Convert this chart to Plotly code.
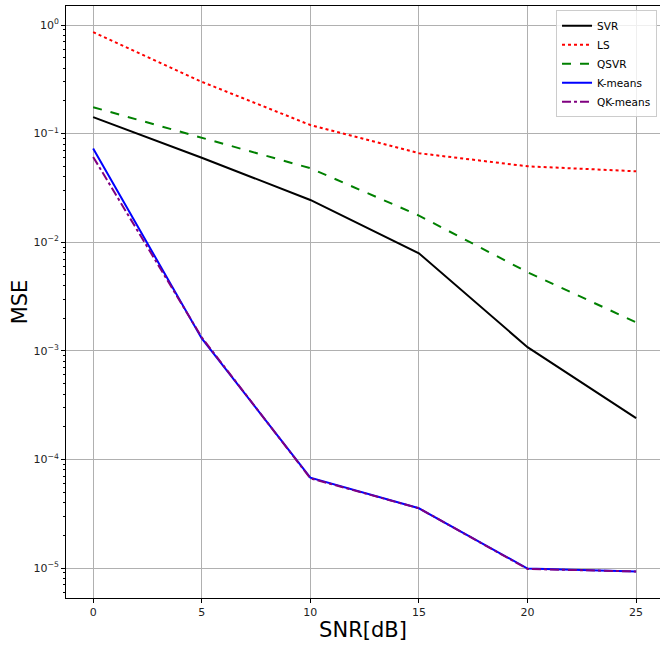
import plotly.graph_objects as go

snr = [0, 5, 10, 15, 20, 25]
svr = [0.142, 0.060, 0.0245, 0.0079, 0.00108, 0.00024]
ls = [0.86, 0.30, 0.12, 0.066, 0.050, 0.045]
qsvr = [0.175, 0.092, 0.048, 0.0176, 0.0053, 0.00183]
kmeans = [0.073, 0.0013, 6.8e-5, 3.55e-5, 9.9e-6, 9.3e-6]
qkmeans = [0.061, 0.00133, 6.7e-5, 3.55e-5, 9.8e-6, 9.3e-6]

series = [
    ("SVR", svr, "black", "solid"),
    ("LS", ls, "red", "dot"),
    ("QSVR", qsvr, "green", "dash"),
    ("K-means", kmeans, "blue", "solid"),
    ("QK-means", qkmeans, "purple", "dashdot"),
]

ytick_vals = [1e-5, 1e-4, 1e-3, 1e-2, 1e-1, 1]
ytick_text = ["10<sup>−5</sup>", "10<sup>−4</sup>", "10<sup>−3</sup>",
              "10<sup>−2</sup>", "10<sup>−1</sup>", "10<sup>0</sup>"]
minor_vals = [m * 10 ** e for e in range(-6, 1) for m in range(2, 10)]

fig = go.Figure()
for name, vals, color, dash in series:
    fig.add_trace(go.Scatter(x=snr, y=vals, mode="lines", name=name,
                             line=dict(color=color, dash=dash, width=2)))

axis_common = dict(showline=True, linecolor="black", linewidth=1, mirror=True,
                   showgrid=True, gridcolor="#b0b0b0", gridwidth=0.8,
                   ticks="outside", ticklen=4, tickcolor="black", zeroline=False,
                   tickfont=dict(family="DejaVu Sans", size=11, color="#222"))

fig.update_layout(
    width=660, height=645,
    margin=dict(l=66, r=0, t=6, b=47),
    plot_bgcolor="white", paper_bgcolor="white",
    font=dict(family="DejaVu Sans"),
    xaxis=dict(range=[-1.25, 26.1], tickvals=snr,
               title=dict(text="SNR[dB]", font=dict(size=21, color="black"), standoff=4),
               **axis_common),
    yaxis=dict(type="log", range=[-5.276, 0.175], tickvals=ytick_vals, ticktext=ytick_text,
               title=dict(text="MSE", font=dict(size=21, color="black"), standoff=0),
               minor=dict(tickvals=minor_vals, ticks="outside", ticklen=2, tickcolor="black", showgrid=False),
               **axis_common),
    legend=dict(x=0.995, y=0.993, xanchor="right", yanchor="top",
                bgcolor="rgba(255,255,255,0.8)", bordercolor="#cccccc", borderwidth=1,
                font=dict(size=10.5, color="black"), tracegroupgap=0, itemwidth=30),
    showlegend=True,
)

fig.write_html("out.html", config={"displayModeBar": False},
               post_script="document.body.style.margin='0';")
